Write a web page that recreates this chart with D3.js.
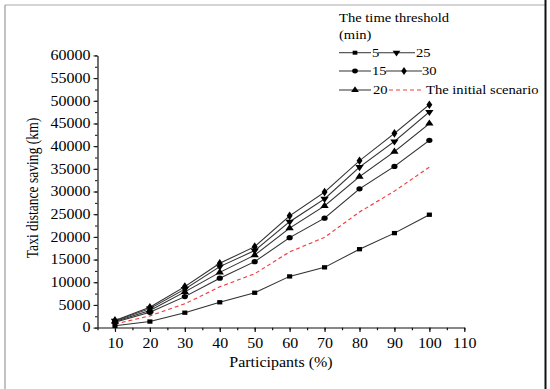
<!DOCTYPE html>
<html>
<head>
<meta charset="utf-8">
<script src="https://cdn.jsdelivr.net/npm/d3@7"></script>
<style>
  html, body { margin: 0; padding: 0; background: #fff; }
  svg { display: block; }
</style>
</head>
<body>
<div id="chart"></div>
<script>
// chart values
const participants = [10, 20, 30, 40, 50, 60, 70, 80, 90, 100];
const t5 = [400, 1350, 3300, 5600, 7700, 11300, 13300, 17300, 20850, 24900];
const t15 = [1200, 3400, 6850, 10900, 14550, 19850, 24150, 30600, 35550, 41300];
const t20 = [1350, 3800, 7900, 12200, 16000, 21950, 26850, 33300, 38800, 45000];
const t25 = [1500, 4200, 8500, 13450, 17000, 23350, 28400, 35400, 41050, 47550];
const t30 = [1600, 4500, 9050, 14200, 17850, 24650, 29900, 36800, 42850, 49150];
const initialScenario = [800, 2600, 5250, 9000, 11900, 16700, 19900, 25500, 30100, 35400];

const xTicks = [10, 20, 30, 40, 50, 60, 70, 80, 90, 100, 110];
const yTicks = [0, 5000, 10000, 15000, 20000, 25000, 30000, 35000, 40000, 45000, 50000, 55000, 60000];

const seriesNames = ["5", "15", "20", "25", "30"];
const seriesValues = [t5, t15, t20, t25, t30];
const seriesSymbols = [d3.symbolSquare, d3.symbolCircle, d3.symbolTriangle, d3.symbolTriangle, d3.symbolDiamond];

// the original picture is a bit squashed vertically
let sy = 0.85,
    W = 550,
    H = 389 / sy,
    font = "'Liberation Serif', 'Times New Roman', serif",
    lineColor = "#333";

let svg = d3.select("#chart")
    .append("svg")
    .attr("width", 550)
    .attr("height", 389)
    .attr("viewBox", `0 0 ${W} ${H}`)
    .attr("preserveAspectRatio", "none");

svg.append("rect").attr("width", W).attr("height", H).attr("fill", "#fff");

// frame around the figure
svg.append("line").attr("x1", 5).attr("x2", 545).attr("y1", 6).attr("y2", 6)
    .attr("stroke", "#aaa").attr("stroke-width", 1.2);
svg.append("line").attr("x1", 5).attr("x2", 5).attr("y1", 6).attr("y2", H)
    .attr("stroke", "#999").attr("stroke-width", 1.2);
svg.append("line").attr("x1", 545.5).attr("x2", 545.5).attr("y1", 0).attr("y2", H)
    .attr("stroke", "#111").attr("stroke-width", 2);

let x = d3.scaleLinear().domain([5, 110]).range([97.5, 464.3]);
let y = d3.scaleLinear().domain([0, 60000]).range([385.5, 65.3]);

// minor ticks
svg.append("g")
    .attr("transform", `translate(0,${y(0)})`)
    .call(d3.axisBottom(x).tickValues(d3.range(5, 111, 5)).tickSize(3).tickFormat(""))
    .call(g => g.select(".domain").remove());
svg.append("g")
    .attr("transform", `translate(${x(5)},0)`)
    .call(d3.axisLeft(y).tickValues(d3.range(0, 60001, 2500)).tickSize(2.5).tickFormat(""))
    .call(g => g.select(".domain").remove());

// X axis
let xAxis = svg.append("g")
    .attr("transform", `translate(0,${y(0)})`)
    .call(d3.axisBottom(x).tickValues(xTicks).tickSize(5).tickPadding(7).tickSizeOuter(0));
xAxis.selectAll("text").attr("font-size", 16).attr("font-family", font).attr("fill", "#000");

// Y axis
let yAxis = svg.append("g")
    .attr("transform", `translate(${x(5)},0)`)
    .call(d3.axisLeft(y).tickValues(yTicks).tickSize(4).tickPadding(3).tickSizeOuter(0).tickFormat(d3.format("d")));
yAxis.selectAll("text").attr("font-size", 16).attr("font-family", font).attr("fill", "#000");

svg.selectAll(".tick line, .domain").attr("stroke", "#111").attr("stroke-width", 1.2);

// axis titles
svg.append("text")
    .attr("x", 281).attr("y", 431.5)
    .attr("text-anchor", "middle")
    .attr("font-size", 16).attr("font-family", font)
    .text("Participants (%)");

svg.append("text")
    .attr("transform", `translate(38,${188 / sy}) rotate(-90)`)
    .attr("text-anchor", "middle")
    .attr("font-size", 16).attr("font-family", font)
    .text("Taxi distance saving (km)");

// initial scenario (red dashed)
svg.append("path")
    .datum(participants.map((p, i) => [p, initialScenario[i]]))
    .attr("fill", "none")
    .attr("stroke", "#f03c3c")
    .attr("stroke-width", 1.3)
    .attr("stroke-dasharray", "4,3")
    .attr("d", d3.line().x(d => x(d[0])).y(d => y(d[1])));

// threshold series
seriesValues.forEach(function(vals, k) {
    let pts = participants.map((p, i) => [p, vals[i]]);
    svg.append("path")
        .datum(pts)
        .attr("fill", "none")
        .attr("stroke", lineColor)
        .attr("stroke-width", 1.2)
        .attr("d", d3.line().x(d => x(d[0])).y(d => y(d[1])));

    let sym = d3.symbol().type(seriesSymbols[k]).size(k === 0 ? 26 : 30);
    svg.append("g")
        .selectAll("path")
        .data(pts)
        .enter()
        .append("path")
        .attr("d", sym)
        .attr("transform", d => `translate(${x(d[0])},${y(d[1])})` + (k === 3 ? " rotate(180)" : ""))
        .attr("fill", "#000");
});

// legend
let legend = svg.append("g").attr("font-family", font).attr("font-size", 14.6);
legend.append("text").attr("x", 339).attr("y", 22 / sy).text("The time threshold");
legend.append("text").attr("x", 339).attr("y", 39 / sy).text("(min)");

let rowY = [52.7 / sy, 71 / sy, 90 / sy];
let legendItems = [
    {k: 0, row: 0, x1: 339, x2: 371, tx: 372},
    {k: 3, row: 0, x1: 378, x2: 415, tx: 416},
    {k: 1, row: 1, x1: 339, x2: 371, tx: 372},
    {k: 4, row: 1, x1: 386, x2: 422, tx: 422},
    {k: 2, row: 2, x1: 339, x2: 371, tx: 373}
];
legendItems.forEach(function(it) {
    let cy = rowY[it.row];
    legend.append("line")
        .attr("x1", it.x1).attr("x2", it.x2).attr("y1", cy).attr("y2", cy)
        .attr("stroke", lineColor).attr("stroke-width", 1.2);
    legend.append("path")
        .attr("d", d3.symbol().type(seriesSymbols[it.k]).size(it.k === 0 ? 22 : 26))
        .attr("transform", `translate(${(it.x1 + it.x2) / 2},${cy})` + (it.k === 3 ? " rotate(180)" : ""))
        .attr("fill", "#000");
    legend.append("text").attr("x", it.tx).attr("y", cy + 5).text(seriesNames[it.k]);
});
legend.append("line")
    .attr("x1", 389).attr("x2", 421).attr("y1", rowY[2]).attr("y2", rowY[2])
    .attr("stroke", "#f03c3c").attr("stroke-width", 1.3).attr("stroke-dasharray", "4,3");
legend.append("text").attr("x", 426).attr("y", rowY[2] + 5).text("The initial scenario");
</script>
</body>
</html>
